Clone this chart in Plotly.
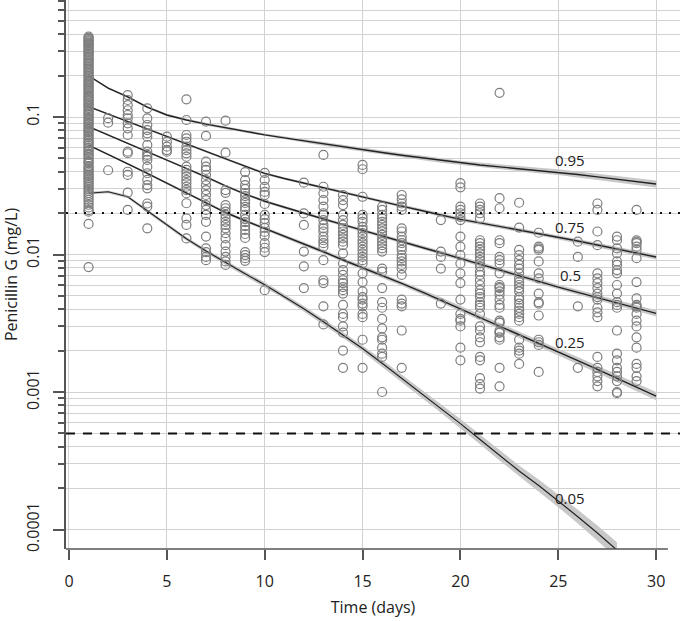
import numpy as np
import plotly.graph_objects as go

# ---------------- data ----------------
pred_days = list(range(1, 31))
p95 = [0.1995, 0.1622, 0.1403, 0.1180, 0.1035, 0.0951, 0.0887, 0.0832, 0.0785, 0.0741,
       0.0705, 0.0670, 0.0637, 0.0605, 0.0578, 0.0552, 0.0527, 0.0505, 0.0483, 0.0463,
       0.0448, 0.0434, 0.0421, 0.0408, 0.0397, 0.0382, 0.0367, 0.0353, 0.0339, 0.0326]
p75 = [0.1189, 0.1052, 0.0931, 0.0824, 0.0726, 0.0637, 0.0562, 0.0495, 0.0437, 0.0389,
       0.0357, 0.0330, 0.0305, 0.0282, 0.0262, 0.0243, 0.0225, 0.0209, 0.0194, 0.0180,
       0.0170, 0.0160, 0.0151, 0.01426, 0.0134, 0.01253, 0.01172, 0.01096, 0.01026, 0.00959]
p50 = [0.0851, 0.0741, 0.0646, 0.0562, 0.0490, 0.0425, 0.0367, 0.0316, 0.0275, 0.0244,
       0.0220, 0.01995, 0.01811, 0.01648, 0.01496, 0.01361, 0.01239, 0.0113, 0.0103, 0.00938,
       0.00851, 0.00773, 0.00701, 0.00637, 0.00579, 0.00531, 0.00486, 0.00445, 0.00407, 0.00373]
p25 = [0.0624, 0.0537, 0.0457, 0.0389, 0.0331, 0.0282, 0.0240, 0.0202, 0.0176, 0.0155,
       0.01365, 0.01189, 0.01047, 0.00912, 0.00804, 0.0070, 0.00617, 0.00537, 0.00467, 0.00403,
       0.00348, 0.00302, 0.00261, 0.00226, 0.00195, 0.00169, 0.00146, 0.00126, 0.00108, 0.000935]
p05_days = list(range(1, 29))
p05 = [0.0279, 0.0286, 0.0263, 0.0209, 0.0164, 0.0130, 0.0106, 0.00871, 0.00724, 0.00603,
       0.00495, 0.00403, 0.00324, 0.0026, 0.00207, 0.00162, 0.00126, 0.000977, 0.000759, 0.000589,
       0.000452, 0.000347, 0.000266, 0.000209, 0.000162, 0.000124, 0.0000944, 0.0000708]

# confidence band half-widths (log10 units)
w95 = [0.007, 0.007, 0.008, 0.008, 0.009, 0.009, 0.010, 0.010, 0.011, 0.011,
       0.012, 0.012, 0.013, 0.013, 0.014, 0.014, 0.015, 0.016, 0.016, 0.017,
       0.018, 0.018, 0.019, 0.020, 0.021, 0.021, 0.022, 0.023, 0.024, 0.025]
w75 = [0.006, 0.006, 0.006, 0.007, 0.007, 0.007, 0.008, 0.008, 0.008, 0.009,
       0.009, 0.009, 0.010, 0.010, 0.011, 0.011, 0.012, 0.012, 0.013, 0.013,
       0.014, 0.014, 0.015, 0.015, 0.016, 0.016, 0.017, 0.017, 0.018, 0.018]
w50 = [0.006, 0.006, 0.006, 0.007, 0.007, 0.007, 0.008, 0.008, 0.009, 0.009,
       0.010, 0.010, 0.011, 0.011, 0.012, 0.012, 0.013, 0.013, 0.014, 0.015,
       0.015, 0.016, 0.017, 0.017, 0.018, 0.019, 0.019, 0.020, 0.021, 0.022]
w25 = [0.007, 0.007, 0.008, 0.008, 0.009, 0.009, 0.010, 0.011, 0.011, 0.012,
       0.013, 0.013, 0.014, 0.015, 0.016, 0.016, 0.017, 0.018, 0.019, 0.020,
       0.021, 0.022, 0.023, 0.024, 0.025, 0.026, 0.027, 0.028, 0.029, 0.030]
w05 = [0.010, 0.010, 0.011, 0.012, 0.013, 0.014, 0.015, 0.016, 0.017, 0.018,
       0.019, 0.020, 0.021, 0.022, 0.023, 0.025, 0.027, 0.029, 0.031, 0.033,
       0.035, 0.038, 0.041, 0.044, 0.047, 0.050, 0.054, 0.058]

# observed concentrations (mg/L) per day
obs_d01 = [0.385, 0.378, 0.37, 0.362, 0.355, 0.347, 0.34, 0.333, 0.326, 0.318, 0.31, 0.303,
           0.296, 0.289, 0.282, 0.275, 0.268, 0.262, 0.255, 0.249, 0.243, 0.237, 0.231,
           0.225, 0.22, 0.214, 0.209, 0.204, 0.199, 0.194, 0.189, 0.184, 0.18, 0.175,
           0.171, 0.167, 0.163, 0.159, 0.155, 0.151, 0.147, 0.143, 0.14, 0.136, 0.133,
           0.13, 0.126, 0.123, 0.12, 0.117, 0.114, 0.111, 0.108, 0.105, 0.103, 0.1,
           0.097, 0.095, 0.092, 0.09, 0.088, 0.085, 0.083, 0.081, 0.079, 0.077, 0.075,
           0.073, 0.071, 0.069, 0.067, 0.065, 0.064, 0.062, 0.06, 0.059, 0.057, 0.056,
           0.054, 0.053, 0.051, 0.05, 0.048, 0.047, 0.046, 0.044, 0.043, 0.042, 0.041,
           0.04, 0.039, 0.038, 0.037, 0.036, 0.035, 0.034, 0.033, 0.032, 0.031, 0.030,
           0.029, 0.028, 0.027, 0.026, 0.025, 0.024, 0.023, 0.022, 0.021, 0.0205,
           0.0167, 0.0081]
obs_d02 = [0.098, 0.091, 0.041]
obs_d03 = [0.1445, 0.133, 0.122, 0.112, 0.1034, 0.0978, 0.090, 0.0827, 0.074, 0.056,
           0.0545, 0.040, 0.0379, 0.0282, 0.0211]
obs_d04 = [0.1157, 0.0978, 0.0875, 0.0804, 0.0761, 0.0719, 0.0626, 0.056, 0.053, 0.0515,
           0.0487, 0.0435, 0.039, 0.0349, 0.032, 0.0303, 0.0235, 0.0223, 0.0155]
obs_d05 = [0.0719, 0.0661, 0.0608, 0.0575, 0.056]
obs_d06 = [0.1345, 0.0951, 0.074, 0.070, 0.0661, 0.0608, 0.0575, 0.0544, 0.0514, 0.0435,
           0.0412, 0.039, 0.0368, 0.0348, 0.033, 0.0311, 0.0294, 0.0279, 0.0236, 0.0183,
           0.0164, 0.0131]
obs_d07 = [0.0925, 0.0728, 0.0473, 0.0435, 0.0412, 0.0379, 0.0348, 0.032, 0.0294, 0.0271,
           0.0249, 0.0229, 0.0211, 0.0194, 0.0173, 0.0135, 0.0111, 0.0104, 0.0096, 0.0091]
obs_d08 = [0.094, 0.055, 0.0294, 0.0281, 0.0229, 0.0217, 0.0205, 0.0194, 0.0183, 0.0173,
           0.0164, 0.0155, 0.0143, 0.0131, 0.0117, 0.0105, 0.0096, 0.0089, 0.0084]
obs_d09 = [0.0398, 0.0348, 0.032, 0.030, 0.028, 0.0266, 0.0249, 0.0237, 0.0222, 0.0211,
           0.0194, 0.0181, 0.0172, 0.0161, 0.0151, 0.0141, 0.0132, 0.0104, 0.0099, 0.0094,
           0.0090]
obs_d10 = [0.0392, 0.0348, 0.031, 0.0285, 0.0271, 0.0233, 0.0194, 0.0181, 0.0169, 0.0156,
           0.0146, 0.01365, 0.0121, 0.0112, 0.0104, 0.0055]
obs_d12 = [0.0333, 0.0199, 0.0164, 0.0105, 0.0082, 0.0057]
obs_d13 = [0.053, 0.0311, 0.0279, 0.0249, 0.0223, 0.01995, 0.0194, 0.0178, 0.0164, 0.0155,
           0.0147, 0.0135, 0.0127, 0.0121, 0.0114, 0.0091, 0.0065, 0.0062, 0.0042, 0.0031]
obs_d14 = [0.0271, 0.0249, 0.0229, 0.0194, 0.0178, 0.0164, 0.0155, 0.0147, 0.0139, 0.0131,
           0.0124, 0.0117, 0.0102, 0.0086, 0.0077, 0.0071, 0.0065, 0.0062, 0.0058, 0.0055,
           0.0052, 0.0043, 0.0037, 0.0035, 0.0030, 0.0027, 0.0020, 0.0015]
obs_d15 = [0.0448, 0.0417, 0.0263, 0.0194, 0.0183, 0.0173, 0.0159, 0.0151, 0.0143, 0.0135,
           0.0127, 0.0121, 0.0114, 0.0108, 0.0102, 0.0096, 0.0091, 0.0086, 0.0073, 0.0063,
           0.0054, 0.0049, 0.0047, 0.0044, 0.0042, 0.0037, 0.0035, 0.0024, 0.0015]
obs_d16 = [0.0223, 0.0211, 0.0194, 0.0183, 0.0173, 0.0164, 0.0155, 0.0147, 0.0139, 0.0131,
           0.0124, 0.0117, 0.0111, 0.0105, 0.0079, 0.0075, 0.0057, 0.0045, 0.0041, 0.0034,
           0.0029, 0.0025, 0.0024, 0.0021, 0.0019, 0.0018, 0.0010]
obs_d17 = [0.0271, 0.0252, 0.0235, 0.0223, 0.0211, 0.0155, 0.0147, 0.0135, 0.0127, 0.0121,
           0.0114, 0.0108, 0.0099, 0.0094, 0.0089, 0.0084, 0.0079, 0.0071, 0.0047, 0.0044,
           0.0042, 0.0028, 0.0015]
obs_d19 = [0.0178, 0.0105, 0.0096, 0.0079, 0.0044]
obs_d20 = [0.033, 0.0308, 0.0223, 0.0211, 0.01995, 0.0188, 0.0178, 0.0135, 0.0114, 0.0099,
           0.0086, 0.0073, 0.0062, 0.0047, 0.0037, 0.0034, 0.0033, 0.0030, 0.0021, 0.0017]
obs_d21 = [0.0235, 0.0223, 0.0211, 0.01995, 0.0183, 0.0127, 0.0121, 0.0114, 0.0108, 0.0102,
           0.0096, 0.0091, 0.0086, 0.0082, 0.0075, 0.0071, 0.0065, 0.0060, 0.0055, 0.0052,
           0.0049, 0.0045, 0.0043, 0.0041, 0.0037, 0.0030, 0.0028, 0.0025, 0.0023, 0.0018,
           0.0017, 0.00126, 0.00114, 0.00106]
obs_d22 = [0.150, 0.0257, 0.0217, 0.0127, 0.0121, 0.0096, 0.0091, 0.0086, 0.0073, 0.0060,
           0.0058, 0.0057, 0.0054, 0.0051, 0.0047, 0.0043, 0.0041, 0.0033, 0.0032, 0.0032,
           0.0028, 0.0027, 0.0027, 0.0025, 0.0024, 0.0015, 0.0011]
obs_d23 = [0.0238, 0.0157, 0.0108, 0.0099, 0.0091, 0.0084, 0.0079, 0.0073, 0.0067, 0.0063,
           0.0060, 0.0057, 0.0054, 0.0049, 0.0047, 0.0044, 0.0041, 0.0039, 0.0037, 0.0035,
           0.0033, 0.0024, 0.0021, 0.0020, 0.0019, 0.0016]
obs_d24 = [0.0144, 0.0114, 0.0111, 0.0108, 0.0089, 0.0073, 0.0067, 0.0052, 0.0045, 0.0044,
           0.0036, 0.0024, 0.0023, 0.0022, 0.0014]
obs_d26 = [0.0124, 0.0096, 0.0042, 0.0015]
obs_d27 = [0.0235, 0.0211, 0.0147, 0.0117, 0.0073, 0.0067, 0.0062, 0.0057, 0.0052, 0.0049,
           0.0047, 0.0041, 0.0038, 0.0035, 0.0018, 0.0015, 0.0014, 0.0013, 0.0012, 0.0011]
obs_d28 = [0.0135, 0.0127, 0.0111, 0.0102, 0.0089, 0.0084, 0.0077, 0.0073, 0.0060, 0.0052,
           0.0045, 0.0043, 0.0041, 0.0028, 0.0019, 0.0017, 0.0015, 0.0014, 0.0013, 0.0012,
           0.0010, 0.00098]
obs_d29 = [0.0211, 0.0127, 0.0124, 0.0121, 0.0114, 0.0108, 0.0094, 0.0063, 0.0048, 0.0043,
           0.0042, 0.0041, 0.0037, 0.0033, 0.0030, 0.0025, 0.0021, 0.0016, 0.0015, 0.0013,
           0.0012]

obs_days = [1, 2, 3, 4, 5, 6, 7, 8, 9, 10, 12, 13, 14, 15, 16, 17, 19, 20, 21, 22, 23, 24, 26, 27, 28, 29]
obs_lists = [obs_d01, obs_d02, obs_d03, obs_d04, obs_d05, obs_d06, obs_d07, obs_d08, obs_d09,
             obs_d10, obs_d12, obs_d13, obs_d14, obs_d15, obs_d16, obs_d17, obs_d19, obs_d20,
             obs_d21, obs_d22, obs_d23, obs_d24, obs_d26, obs_d27, obs_d28, obs_d29]

pct_labels = ["0.95", "0.75", "0.5", "0.25", "0.05"]
pct_label_y = [0.0486, 0.0159, 0.0071, 0.00232, 0.000169]
pct_label_x = 25.6

target_conc = 0.02      # dotted reference line
loq_conc = 0.0005       # dashed reference line

y_tick_vals = [0.0001, 0.001, 0.01, 0.1]
y_tick_text = ["0.0001", "0.001", "0.01", "0.1"]
y_minor_vals = [0.0002, 0.0003, 0.0004, 0.0005, 0.0006, 0.0007, 0.0008, 0.0009,
                0.002, 0.003, 0.004, 0.005, 0.006, 0.007, 0.008, 0.009,
                0.02, 0.03, 0.04, 0.05, 0.06, 0.07, 0.08, 0.09,
                0.2, 0.3, 0.4, 0.5, 0.6, 0.7]
x_tick_vals = [0, 5, 10, 15, 20, 25, 30]
x_range = [-0.153, 31.22]

# ---------------- figure ----------------
FONT = "Open Sans"
fig = go.Figure()

band_color = "#c8c8c8"
line_color = "#222222"

for xs, ys, ws in [(pred_days, p95, w95), (pred_days, p75, w75), (pred_days, p50, w50),
                   (pred_days, p25, w25), (p05_days, p05, w05)]:
    ys_a = np.array(ys)
    ws_a = np.array(ws)
    upper = ys_a * 10 ** ws_a
    lower = ys_a / 10 ** ws_a
    fig.add_trace(go.Scatter(x=list(xs) + list(xs)[::-1],
                             y=list(upper) + list(lower)[::-1],
                             fill="toself", fillcolor=band_color,
                             line=dict(width=0), mode="lines",
                             hoverinfo="skip", showlegend=False))

for xs, ys, lw in [(pred_days, p95, 1.4), (pred_days, p75, 1.4), (pred_days, p50, 1.4),
                   (pred_days, p25, 1.4), (p05_days, p05, 1.2)]:
    fig.add_trace(go.Scatter(x=xs, y=ys, mode="lines",
                             line=dict(color=line_color, width=lw),
                             showlegend=False))

ox, oy = [], []
for d, vals in zip(obs_days, obs_lists):
    ox += [d] * len(vals)
    oy += vals
fig.add_trace(go.Scatter(x=ox, y=oy, mode="markers",
                         marker=dict(symbol="circle-open", size=9, color="#7d7d7d",
                                     line=dict(width=1.2)),
                         showlegend=False))

# reference lines (drawn as traces through the axis scales)
fig.add_trace(go.Scatter(x=x_range, y=[target_conc, target_conc], mode="lines",
                         line=dict(color="#111111", width=2, dash="2px,7px"),
                         showlegend=False, hoverinfo="skip"))
fig.add_trace(go.Scatter(x=x_range, y=[loq_conc, loq_conc], mode="lines",
                         line=dict(color="#111111", width=2, dash="9px,8px"),
                         showlegend=False, hoverinfo="skip"))

# bottom axis line
fig.add_shape(type="line", xref="x", yref="paper", x0=x_range[0], x1=30.6, y0=0, y1=0,
              line=dict(color="#555555", width=1.5), layer="above")

for t, yv in zip(pct_labels, pct_label_y):
    fig.add_annotation(x=pct_label_x, y=np.log10(yv), text=t, showarrow=False,
                       font=dict(family=FONT, size=15, color="#222222"))

grid = "#d2d2d2"
fig.update_layout(
    width=680, height=621,
    margin=dict(l=66, r=0, t=0, b=72),
    plot_bgcolor="white", paper_bgcolor="white",
    font=dict(family=FONT, size=15, color="#222222"),
    xaxis=dict(range=x_range, tickmode="array", tickvals=x_tick_vals,
               ticks="outside", ticklen=10, tickwidth=1.5, tickcolor="#555555",
               showgrid=True, gridcolor=grid, gridwidth=1, zeroline=False,
               showline=False, ticklabelstandoff=8,
               tickfont=dict(family=FONT, size=16, color="#222222"),
               title=dict(text="Time (days)", font=dict(family=FONT, size=16, color="#222222"),
                          standoff=10),
               automargin=False),
    yaxis=dict(type="log", range=[-4.1418, -0.149], tickmode="array",
               tickvals=y_tick_vals, ticktext=y_tick_text, tickangle=-90,
               ticks="outside", ticklen=11, tickwidth=1.5, tickcolor="#555555",
               showgrid=True, gridcolor=grid, gridwidth=1, zeroline=False,
               showline=True, linecolor="#555555", linewidth=1.5,
               ticklabelstandoff=8,
               tickfont=dict(family=FONT, size=16, color="#222222"),
               minor=dict(tickmode="array", tickvals=y_minor_vals, ticks="outside",
                          ticklen=6, tickwidth=1.5, tickcolor="#555555",
                          showgrid=True, gridcolor=grid, gridwidth=1),
               title=dict(text="Penicillin G (mg/L)",
                          font=dict(family=FONT, size=16, color="#222222"), standoff=6),
               automargin=False),
)

fig.write_html("out.html", config={"displayModeBar": False},
               post_script="document.body.style.margin='0px';document.body.style.overflow='hidden';")
